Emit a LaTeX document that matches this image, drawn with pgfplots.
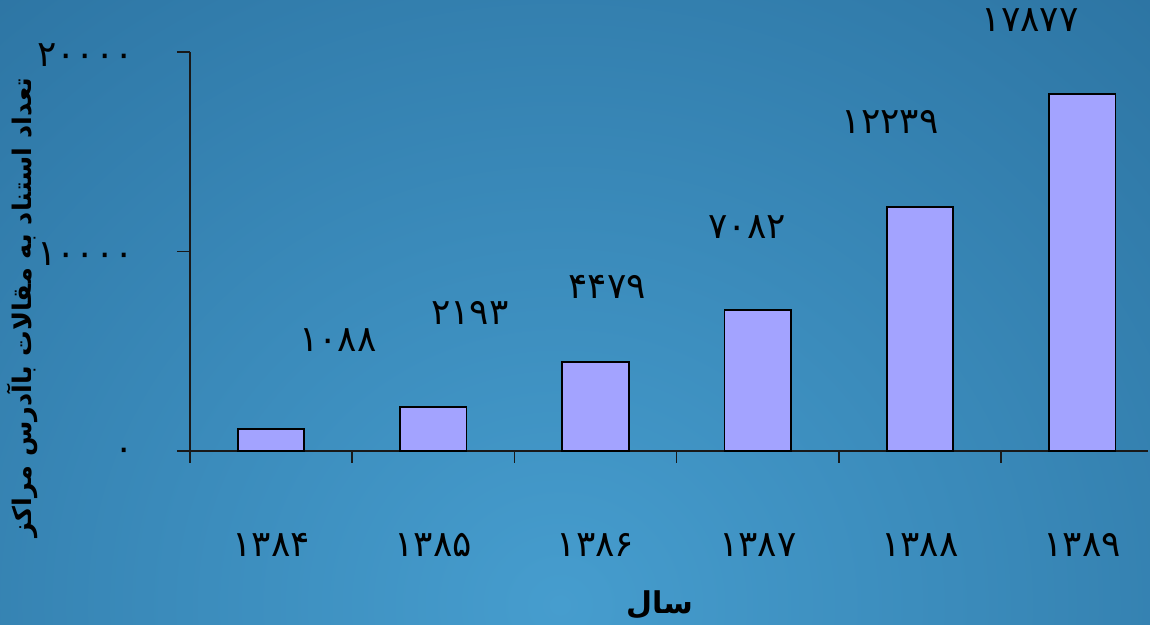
\documentclass[border=0pt]{standalone}
\usepackage{pgfplots}
\pgfplotsset{compat=1.18}
\usetikzlibrary{backgrounds}
\usepackage{fontspec}
\TeXXeTstate=1
\newfontfamily\arabicfont[Script=Arabic]{DejaVu Sans}
\definecolor{barfill}{HTML}{A3A3FF}
\definecolor{bginner}{HTML}{469DCE}
\definecolor{bgouter}{HTML}{266A98}
\begin{document}
\begin{tikzpicture}
\begin{axis}[
  scale only axis, width=479pt, height=199.5pt,
  xmin=-0.5, xmax=5.406, ymin=0, ymax=20000,
  clip=false,
  axis lines=left,
  axis line style={-, black!90, line width=0.8pt},
  tick align=outside,
  major tick length=6.5pt,
  minor tick length=6pt,
  xtick={0,1,2,3,4,5},
  major x tick style={draw=none},
  minor xtick={-0.5,0.5,1.5,2.5,3.5,4.5},
  tick style={black!90, line width=0.8pt},
  xticklabels={۱۳۸۴,۱۳۸۵,۱۳۸۶,۱۳۸۷,۱۳۸۸,۱۳۸۹},
  ytick={0,10000,20000},
  yticklabels={۰,۱۰۰۰۰,۲۰۰۰۰},
  scaled y ticks=false,
  ticklabel style={font=\arabicfont\fontsize{18}{21}\selectfont},
  xticklabel style={anchor=center, yshift=-40.5pt},
  yticklabel style={xshift=-18pt, yshift=-1.5pt},
  xlabel={\arabicfont\fontsize{15}{18}\selectfont\bfseries\beginR سال\endR},
  xlabel style={at={(axis description cs:0.49,-0.386)}, anchor=center},
  ylabel={\arabicfont\fontsize{12.8}{15}\selectfont\bfseries\beginR تعداد استناد به مقالات باآدرس مراکز\endR},
  ylabel style={at={(axis description cs:-0.175,0.36)}, anchor=center},
]
\coordinate (SW) at (axis cs:-0.5,0);
\addplot[ybar, bar width=0.41, fill=barfill, draw=black, line width=0.9pt]
  coordinates {(0,1088) (1,2193) (2,4479) (3,7082) (4,12239) (5,17877)};
\addplot[draw=none, mark=none, nodes near coords, point meta=explicit symbolic,
  nodes near coords style={anchor=center, font=\arabicfont\fontsize{18}{21}\selectfont, text=black}]
  coordinates {(0.412,5564) [۱۰۸۸] (1.226,6917) [۲۱۹۳] (2.071,8221) [۴۴۷۹] (2.934,11228) [۷۰۸۲] (3.816,16491) [۱۲۲۳۹] (4.679,21604) [۱۷۸۷۷]};
\end{axis}
\pgfresetboundingbox
\begin{scope}[on background layer]
\clip ([shift={(-95pt,-87pt)}]SW) rectangle ([shift={(480pt,225.5pt)}]SW);
\shade[inner color=bginner, outer color=bgouter] ([shift={(185pt,-77pt)}]SW) ellipse [x radius=560pt, y radius=520pt];
\end{scope}
\useasboundingbox ([shift={(-95pt,-87pt)}]SW) rectangle ([shift={(480pt,225.5pt)}]SW);
\end{tikzpicture}
\end{document}
